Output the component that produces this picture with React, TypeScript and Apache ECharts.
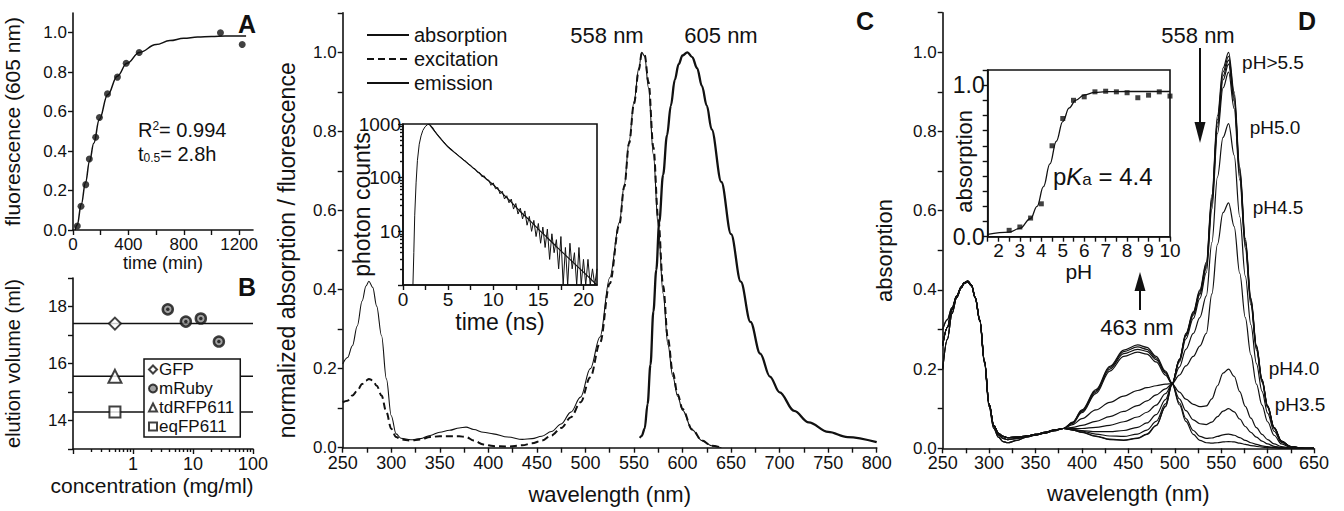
import React, { useEffect, useRef } from 'react';
import * as echarts from 'echarts';

const FONT = '"Liberation Sans", Arial, Helvetica, sans-serif';
const INK = '#111';

// ---------------- Panel A: maturation ----------------
const aTime = [31, 58, 92, 118, 164, 191, 249, 321, 384, 478, 1065, 1222];
const aFluor = [0.02, 0.12, 0.23, 0.36, 0.47, 0.57, 0.69, 0.775, 0.845, 0.9, 1.0, 0.94];
const aFitTime = [15, 30, 60, 90, 120, 150, 190, 250, 320, 390, 480, 600, 700, 800, 900, 1000, 1100, 1250];
const aFitFluor = [0, 0.025, 0.13, 0.24, 0.35, 0.44, 0.56, 0.685, 0.78, 0.845, 0.9, 0.94, 0.96, 0.972, 0.978, 0.981, 0.983, 0.984];
const aTicksX = [0, 200, 400, 600, 800, 1000, 1200];
const aLabelsX = [0, 400, 800, 1200];
const aTicksY = [0, 0.2, 0.4, 0.6, 0.8, 1.0];

// ---------------- Panel B: gel filtration ----------------
const bRefNames = ['GFP', 'tdRFP611', 'eqFP611'];
const bRefSymbols = ['diamond', 'triangle', 'rect'];
const bRefSizes = [12, 13, 11];
const bRefConc = [0.5, 0.5, 0.5];
const bRefElution = [17.4, 15.55, 14.3];
const bConcRange = [0.1, 100];
const bMRubyConc = [3.8, 7.6, 13.5, 27];
const bMRubyElution = [17.9, 17.47, 17.58, 16.77];
const bMinorTicks = [0.2, 0.3, 0.4, 0.5, 0.6, 0.7, 0.8, 0.9, 2, 3, 4, 5, 6, 7, 8, 9, 20, 30, 40, 50, 60, 70, 80, 90];

// ---------------- Panel C: spectra ----------------
const cWl = [250, 255, 260, 265, 270, 274, 277, 281, 285, 290, 295, 300, 305, 310, 320, 330, 340, 350, 360, 370, 377, 385, 395, 405, 420, 435, 445, 455, 465, 475, 485, 495, 505, 515, 525, 535, 540, 545, 550, 555, 558, 561, 565, 570, 575, 580, 585, 590, 595, 600, 610, 620, 630, 640];
const cAbs = [0.212, 0.228, 0.258, 0.308, 0.371, 0.409, 0.421, 0.405, 0.358, 0.283, 0.174, 0.081, 0.035, 0.024, 0.02, 0.023, 0.031, 0.039, 0.044, 0.05, 0.052, 0.046, 0.039, 0.035, 0.027, 0.021, 0.023, 0.029, 0.041, 0.06, 0.09, 0.128, 0.2, 0.28, 0.43, 0.57, 0.665, 0.775, 0.875, 0.96, 1.0, 0.99, 0.91, 0.74, 0.56, 0.39, 0.26, 0.18, 0.13, 0.095, 0.045, 0.018, 0.005, 0];
const cExc = [0.115, 0.119, 0.132, 0.144, 0.161, 0.17, 0.174, 0.17, 0.157, 0.132, 0.09, 0.048, 0.027, 0.021, 0.018, 0.021, 0.027, 0.029, 0.029, 0.029, 0.027, 0.018, 0.008, 0.004, 0.003, 0.006, 0.011, 0.018, 0.031, 0.05, 0.077, 0.115, 0.178, 0.265, 0.415, 0.565, 0.66, 0.77, 0.87, 0.955, 0.998, 0.993, 0.925, 0.76, 0.58, 0.41, 0.275, 0.19, 0.135, 0.098, 0.046, 0.018, 0.005, 0];
const cEmWl = [556, 558, 561, 564, 567, 570, 573, 576, 580, 584, 588, 592, 596, 600, 605, 610, 615, 620, 625, 630, 640, 650, 660, 670, 680, 690, 700, 715, 730, 750, 770, 800];
const cEm = [0.025, 0.03, 0.048, 0.11, 0.21, 0.345, 0.45, 0.57, 0.69, 0.79, 0.865, 0.93, 0.97, 0.992, 1.0, 0.988, 0.96, 0.915, 0.865, 0.805, 0.672, 0.54, 0.42, 0.318, 0.238, 0.18, 0.14, 0.093, 0.064, 0.04, 0.027, 0.014];

// inset: fluorescence decay
const cDecayT = [1.1, 1.2, 1.3, 1.45, 1.6, 1.8, 2.0, 2.2, 2.45, 2.7, 2.9,
  3, 3.25, 3.5, 3.75, 4, 4.25, 4.5, 4.75, 5, 5.25, 5.5, 5.75, 6, 6.25, 6.5, 6.75, 7, 7.25, 7.5, 7.75,
  8, 8.25, 8.5, 8.75, 9, 9.25, 9.5, 9.75, 10, 10.25, 10.5, 10.75, 11, 11.25, 11.5, 11.75, 12, 12.25, 12.5, 12.75,
  13, 13.25, 13.5, 13.75, 14, 14.25, 14.5, 14.75, 15, 15.25, 15.5, 15.75, 16, 16.25, 16.5, 16.75, 17, 17.25, 17.5, 17.75,
  18, 18.25, 18.5, 18.75, 19, 19.25, 19.5, 19.75, 20, 20.25, 20.5, 20.75, 21, 21.25, 21.5];
const cDecayCounts = [1, 4, 20, 80, 210, 420, 600, 760, 890, 970, 990,
  950, 880, 740, 650, 585, 520, 470, 415, 372, 350, 322, 290, 272, 248, 232, 212, 200, 178, 170, 150,
  146, 126, 124, 104, 108, 92, 90, 72, 80, 62, 66, 50, 56, 40, 46, 34, 40, 26, 33, 21,
  27, 17, 24, 13, 19, 10, 16, 8, 14, 6, 12, 5, 11, 3, 9, 4, 7, 2, 8, 1,
  5, 1, 6, 2, 4, 1, 5, 1, 3, 1, 3, 1, 2, 1, 2];
const cFitT = [2.9, 4, 5, 6, 7, 8, 9, 10, 11, 12, 13, 14, 15, 16, 17, 18, 19, 20, 21, 21.5];
const cFitCounts = [990, 575, 372, 269, 195, 141, 102, 74, 51, 35, 23.4, 16.2, 11, 7.6, 5.2, 3.6, 2.5, 1.74, 1.2, 1.0];
const cInsetTicksX = [0, 2.5, 5, 7.5, 10, 12.5, 15, 17.5, 20];
const cInsetLabelsX = [0, 5, 10, 15, 20];
const cInsetMinorY = [2, 3, 4, 5, 6, 7, 8, 9, 20, 30, 40, 50, 60, 70, 80, 90, 200, 300, 400, 500, 600, 700, 800, 900];

// ---------------- Panel D: pH titration ----------------
const dPH = ['9.0', '8.0', '7.0', '6.0', '5.5', '5.0', '4.5', '4.0', '3.5', '3.0', '2.5'];
const dWlUV = [250, 255, 260, 265, 270, 273, 277, 281, 285, 290, 295, 300, 305, 310, 315, 320, 330, 340, 350, 360, 370, 380];
const dUvA = [0.30, 0.325, 0.355, 0.385, 0.408, 0.418, 0.421, 0.41, 0.38, 0.32, 0.215, 0.105, 0.05, 0.028, 0.017, 0.014, 0.02, 0.028, 0.033, 0.038, 0.044, 0.05];
const dUvB = [0.20, 0.275, 0.34, 0.38, 0.405, 0.416, 0.42, 0.41, 0.38, 0.322, 0.218, 0.11, 0.055, 0.034, 0.025, 0.022, 0.025, 0.03, 0.034, 0.039, 0.045, 0.05];
const dUvC = [0.26, 0.305, 0.35, 0.383, 0.407, 0.418, 0.422, 0.412, 0.382, 0.324, 0.22, 0.112, 0.058, 0.038, 0.03, 0.027, 0.028, 0.031, 0.035, 0.04, 0.046, 0.05];
const dUvByPH = [dUvA, dUvC, dUvA, dUvC, dUvC, dUvB, dUvC, dUvB, dUvC, dUvB, dUvC];
const dWlLeft = [390, 400, 415, 430, 445, 460, 470, 480, 490, 497];
const dLeftPH90 = [0.046, 0.04, 0.03, 0.022, 0.02, 0.025, 0.035, 0.057, 0.105, 0.16];
const dLeftPH80 = [0.046, 0.041, 0.031, 0.023, 0.021, 0.026, 0.036, 0.058, 0.106, 0.161];
const dLeftPH70 = [0.047, 0.043, 0.036, 0.031, 0.03, 0.036, 0.046, 0.068, 0.112, 0.162];
const dLeftPH60 = [0.048, 0.045, 0.042, 0.042, 0.045, 0.053, 0.064, 0.085, 0.123, 0.162];
const dLeftPH55 = [0.05, 0.05, 0.053, 0.058, 0.067, 0.079, 0.091, 0.109, 0.138, 0.162];
const dLeftPH50 = [0.053, 0.058, 0.068, 0.08, 0.093, 0.108, 0.12, 0.135, 0.15, 0.163];
const dLeftPH45 = [0.06, 0.075, 0.097, 0.116, 0.132, 0.146, 0.153, 0.158, 0.162, 0.163];
const dLeftPH40 = [0.063, 0.09, 0.138, 0.195, 0.232, 0.243, 0.238, 0.218, 0.185, 0.163];
const dLeftPH35 = [0.064, 0.093, 0.142, 0.2, 0.239, 0.25, 0.245, 0.224, 0.19, 0.164];
const dLeftPH30 = [0.065, 0.095, 0.145, 0.204, 0.244, 0.256, 0.25, 0.228, 0.192, 0.164];
const dLeftPH25 = [0.066, 0.097, 0.148, 0.207, 0.248, 0.261, 0.255, 0.232, 0.195, 0.165];
const dLeftByPH = [dLeftPH90, dLeftPH80, dLeftPH70, dLeftPH60, dLeftPH55, dLeftPH50, dLeftPH45, dLeftPH40, dLeftPH35, dLeftPH30, dLeftPH25];
const dWlRight = [505, 512, 520, 527, 534, 540, 546, 552, 558, 564, 570, 576, 582, 588, 594, 600, 607, 615, 625, 640, 650];
const dRightPH90 = [0.225, 0.29, 0.345, 0.40, 0.47, 0.64, 0.84, 0.96, 1.0, 0.90, 0.71, 0.53, 0.38, 0.26, 0.175, 0.108, 0.053, 0.018, 0.004, 0, 0];
const dRightPH80 = [0.224, 0.288, 0.342, 0.396, 0.465, 0.632, 0.83, 0.95, 0.99, 0.892, 0.703, 0.525, 0.376, 0.258, 0.173, 0.107, 0.052, 0.018, 0.004, 0, 0];
const dRightPH70 = [0.223, 0.286, 0.339, 0.392, 0.46, 0.626, 0.822, 0.94, 0.98, 0.884, 0.697, 0.52, 0.373, 0.256, 0.172, 0.106, 0.052, 0.018, 0.004, 0, 0];
const dRightPH60 = [0.222, 0.284, 0.336, 0.388, 0.455, 0.618, 0.812, 0.93, 0.97, 0.876, 0.69, 0.515, 0.369, 0.253, 0.17, 0.105, 0.051, 0.017, 0.004, 0, 0];
const dRightPH55 = [0.218, 0.276, 0.328, 0.378, 0.444, 0.604, 0.795, 0.91, 0.95, 0.858, 0.678, 0.505, 0.362, 0.248, 0.167, 0.103, 0.05, 0.017, 0.004, 0, 0];
const dRightPH50 = [0.205, 0.25, 0.29, 0.33, 0.385, 0.52, 0.685, 0.785, 0.82, 0.74, 0.585, 0.435, 0.312, 0.214, 0.144, 0.089, 0.043, 0.015, 0.003, 0, 0];
const dRightPH45 = [0.185, 0.208, 0.232, 0.258, 0.29, 0.39, 0.515, 0.595, 0.62, 0.56, 0.442, 0.33, 0.236, 0.162, 0.109, 0.067, 0.033, 0.011, 0.002, 0, 0];
const dRightPH40 = [0.142, 0.124, 0.111, 0.105, 0.107, 0.125, 0.158, 0.19, 0.2, 0.182, 0.143, 0.106, 0.076, 0.052, 0.035, 0.022, 0.011, 0.004, 0.001, 0, 0];
const dRightPH35 = [0.125, 0.095, 0.072, 0.062, 0.06, 0.066, 0.08, 0.094, 0.1, 0.092, 0.074, 0.055, 0.04, 0.028, 0.018, 0.011, 0.005, 0.002, 0, 0, 0];
const dRightPH30 = [0.115, 0.075, 0.045, 0.03, 0.025, 0.026, 0.03, 0.034, 0.036, 0.033, 0.027, 0.02, 0.014, 0.01, 0.006, 0.004, 0.002, 0.001, 0, 0, 0];
const dRightPH25 = [0.11, 0.068, 0.035, 0.02, 0.014, 0.013, 0.014, 0.016, 0.017, 0.016, 0.013, 0.01, 0.007, 0.005, 0.003, 0.002, 0.001, 0, 0, 0, 0];
const dRightByPH = [dRightPH90, dRightPH80, dRightPH70, dRightPH60, dRightPH55, dRightPH50, dRightPH45, dRightPH40, dRightPH35, dRightPH30, dRightPH25];

// inset: titration at 558 nm
const dInsetPH = [2.5, 3, 3.5, 4, 4.5, 5, 5.5, 6, 6.5, 7, 7.5, 8, 8.5, 9, 9.5, 10];
const dInsetAbs = [0.042, 0.064, 0.123, 0.217, 0.6, 0.78, 0.9, 0.923, 0.956, 0.96, 0.956, 0.95, 0.917, 0.934, 0.956, 0.928];
const dFitPH = [1.5, 2.5, 3.0, 3.5, 3.8, 4.1, 4.4, 4.7, 5.0, 5.3, 5.6, 6.0, 6.5, 7, 8, 9, 10];
const dFitAbs = [0.015, 0.03, 0.055, 0.12, 0.2, 0.33, 0.48, 0.63, 0.76, 0.85, 0.9, 0.935, 0.952, 0.957, 0.958, 0.958, 0.958];

const pairs = (xs: number[], ys: number[]) => xs.map((x, i) => [x, ys[i]]);

function mkAxis(o: any) {
  return {
    type: o.type ?? 'value',
    gridIndex: o.grid,
    position: o.position,
    min: o.min,
    max: o.max,
    interval: o.interval,
    logBase: o.logBase,
    name: o.name,
    nameLocation: 'middle',
    nameGap: o.nameGap,
    nameMoveOverlap: false,
    nameTextStyle: { color: INK, fontFamily: FONT, fontSize: o.nameSize ?? 21, padding: o.namePad ?? 0 },
    axisLine: { show: o.line !== false, onZero: false, lineStyle: { color: INK, width: 1.6 } },
    axisTick: { show: true, length: o.tickLen ?? 5, customValues: o.tickValues, lineStyle: { color: INK, width: 1.4 } },
    axisLabel: {
      show: o.labels !== false, color: INK, fontFamily: FONT, fontSize: o.fs ?? 17, margin: o.margin ?? 6,
      formatter: o.fmt, customValues: o.labelValues, showMaxLabel: o.showMax, showMinLabel: o.showMin,
    },
    splitLine: { show: false },
  };
}

const evenTenths = (v: number) => {
  const r = Math.round(v * 10);
  return r % 2 === 0 && r <= 10 ? (r / 10).toFixed(1) : '';
};

function txt(text: string, x: number, y: number, fs: number, extra: any = {}) {
  return {
    type: 'text', x, y, z: 50,
    style: { text, fontSize: fs, fontFamily: FONT, fill: INK, align: 'center', verticalAlign: 'middle', ...extra },
  };
}

function buildOption() {
  const lineBase = { type: 'line', symbol: 'none', showSymbol: false, animation: false };

  const dSeries = dPH.map((ph, i) => ({
    ...lineBase,
    name: 'pH ' + ph,
    xAxisIndex: 4,
    yAxisIndex: 4,
    smooth: 0.35,
    smoothMonotone: 'x',
    lineStyle: { color: INK, width: 1.2 },
    data: pairs(dWlUV.concat(dWlLeft, dWlRight), dUvByPH[i].concat(dLeftByPH[i], dRightByPH[i])),
  }));

  const bRefLines = bRefNames.map((n, i) => ({
    ...lineBase,
    name: n + ' reference',
    xAxisIndex: 1,
    yAxisIndex: 1,
    lineStyle: { color: INK, width: 1.5 },
    data: [[bConcRange[0], bRefElution[i]], [bConcRange[1], bRefElution[i]]],
  }));
  const bRefMarks = bRefNames.map((n, i) => ({
    type: 'scatter',
    name: n,
    xAxisIndex: 1,
    yAxisIndex: 1,
    symbol: bRefSymbols[i],
    symbolSize: bRefSizes[i],
    z: 5,
    itemStyle: { color: '#fff', borderColor: INK, borderWidth: 2 },
    data: [[bRefConc[i], bRefElution[i]]],
  }));

  return {
    animation: false,
    textStyle: { fontFamily: FONT, color: INK },
    grid: [
      { left: 73, top: 13, width: 180, height: 217, outerBoundsMode: 'none' },
      { left: 73, top: 278, width: 180, height: 171, outerBoundsMode: 'none' },
      { left: 342.7, top: 12.8, width: 534, height: 434.9, outerBoundsMode: 'none' },
      { left: 403, top: 124, width: 194, height: 161, show: true, borderColor: INK, borderWidth: 1.6, backgroundColor: '#fff', outerBoundsMode: 'none' },
      { left: 942.7, top: 12.7, width: 371.3, height: 435.6, outerBoundsMode: 'none' },
      { left: 987.7, top: 70, width: 182.3, height: 166.7, show: true, borderColor: INK, borderWidth: 1.6, backgroundColor: '#fff', outerBoundsMode: 'none' },
    ],
    xAxis: [
      mkAxis({ grid: 0, min: 0, max: 1300, interval: 200, tickValues: aTicksX, labelValues: aLabelsX,
        fmt: (v: number) => (v % 400 === 0 && v <= 1200 ? String(v) : ''), name: 'time (min)', nameGap: 24, nameSize: 18 }),
      mkAxis({ grid: 1, type: 'log', logBase: 10, min: bConcRange[0], max: bConcRange[1], fs: 18,
        fmt: (v: number) => (v < 0.5 ? '' : String(Math.round(v))), name: 'concentration (mg/ml)', nameGap: 26, nameSize: 21, namePad: [0, 22, 0, 0] }),
      mkAxis({ grid: 2, min: 250, max: 800, interval: 25, fs: 18, fmt: (v: number) => (v % 50 === 0 ? String(v) : ''),
        name: 'wavelength (nm)', nameGap: 36, nameSize: 22 }),
      mkAxis({ grid: 3, min: 0, max: 21.5, interval: 2.5, tickValues: cInsetTicksX, labelValues: cInsetLabelsX, fs: 19, margin: 5,
        fmt: (v: number) => (v % 5 === 0 ? String(v) : ''), name: 'time (ns)', nameGap: 25, nameSize: 23 }),
      mkAxis({ grid: 4, min: 250, max: 650, interval: 25, fs: 18, fmt: (v: number) => (v % 50 === 0 ? String(v) : ''),
        name: 'wavelength (nm)', nameGap: 34, nameSize: 22 }),
      mkAxis({ grid: 5, min: 1.5, max: 10, interval: 0.5, fs: 19, margin: 4,
        fmt: (v: number) => (Math.abs(v - Math.round(v)) < 1e-6 ? String(Math.round(v)) : ''), name: 'pH', nameGap: 24, nameSize: 21 }),
      mkAxis({ grid: 1, type: 'log', logBase: 10, min: bConcRange[0], max: bConcRange[1], position: 'bottom', line: false, labels: false,
        tickValues: bMinorTicks, tickLen: 3 }),
    ],
    yAxis: [
      mkAxis({ grid: 0, min: 0, max: 1.1, interval: 0.2, tickValues: aTicksY, labelValues: aTicksY,
        fmt: (v: number) => (v <= 1.0001 ? v.toFixed(1) : ''), name: 'fluorescence (605 nm)', nameGap: 50, nameSize: 21 }),
      mkAxis({ grid: 1, min: 13, max: 19, interval: 1,
        fmt: (v: number) => (v === 14 || v === 16 || v === 18 ? String(v) : ''), name: 'elution volume (ml)', nameGap: 50, nameSize: 20 }),
      mkAxis({ grid: 2, min: 0, max: 1.1, interval: 0.1, fmt: evenTenths, name: 'normalized absorption / fluorescence',
        nameGap: 44, nameSize: 23, namePad: [0, 40, 0, 0] }),
      mkAxis({ grid: 3, type: 'log', logBase: 10, min: 1, max: 1000, fs: 19, margin: 2,
        fmt: (v: number) => (v < 2 ? '' : String(Math.round(v))), name: 'photon counts', nameGap: 30, nameSize: 23 }),
      mkAxis({ grid: 4, min: 0, max: 1.1, interval: 0.1, fmt: evenTenths, name: 'absorption',
        nameGap: 47, nameSize: 22, namePad: [0, 40, 0, 0] }),
      mkAxis({ grid: 5, min: 0, max: 1.1, interval: 0.1, fs: 23, margin: 3,
        fmt: (v: number) => { const r = Math.round(v * 10); return r === 0 || r === 10 ? (r / 10).toFixed(1) : ''; },
        name: 'absorption', nameGap: 12, nameSize: 22, namePad: [0, 16, 0, 0] }),
      mkAxis({ grid: 3, type: 'log', logBase: 10, min: 1, max: 1000, position: 'left', line: false, labels: false,
        tickValues: cInsetMinorY, tickLen: 3 }),
    ],
    legend: [
      {
        data: ['absorption', 'excitation', 'emission'], orient: 'vertical', left: 361, top: 20,
        itemWidth: 42, itemHeight: 12, itemGap: 4, selectedMode: false,
        itemStyle: { opacity: 0, color: 'transparent', borderColor: 'transparent', borderWidth: 0 },
        textStyle: { fontSize: 20, fontFamily: FONT, color: INK },
      },
      {
        data: ['GFP', 'mRuby', 'tdRFP611', 'eqFP611'], orient: 'vertical', left: 144, top: 359,
        itemWidth: 8, itemHeight: 8, itemGap: 2, selectedMode: false, z: 10,
        backgroundColor: '#fff', borderColor: INK, borderWidth: 1.5, padding: [2, 6, 2, 4],
        textStyle: { fontSize: 17, fontFamily: FONT, color: INK, padding: [0, 0, 0, -3] },
      },
    ],
    series: [
      // A
      { ...lineBase, name: 'fit A', xAxisIndex: 0, yAxisIndex: 0, smooth: 0.4, smoothMonotone: 'x',
        lineStyle: { color: INK, width: 1.5 }, data: pairs(aFitTime, aFitFluor) },
      { type: 'scatter', name: 'maturation', xAxisIndex: 0, yAxisIndex: 0, symbolSize: 7, itemStyle: { color: INK },
        data: pairs(aTime, aFluor) },
      // B
      ...bRefLines,
      ...bRefMarks,
      { type: 'scatter', name: 'mRuby', xAxisIndex: 1, yAxisIndex: 1, symbol: 'circle', symbolSize: 10, z: 5,
        itemStyle: { color: '#8a8a8a', borderColor: INK, borderWidth: 2.5 }, data: pairs(bMRubyConc, bMRubyElution) },
      { type: 'scatter', name: 'mRuby core', xAxisIndex: 1, yAxisIndex: 1, symbol: 'circle', symbolSize: 3.5, z: 6,
        itemStyle: { color: INK }, data: pairs(bMRubyConc, bMRubyElution) },
      // C
      { ...lineBase, name: 'absorption', xAxisIndex: 2, yAxisIndex: 2, smooth: 0.35, smoothMonotone: 'x',
        lineStyle: { color: INK, width: 1.1 }, itemStyle: { color: INK }, data: pairs(cWl, cAbs) },
      { ...lineBase, name: 'excitation', xAxisIndex: 2, yAxisIndex: 2, smooth: 0.35, smoothMonotone: 'x',
        lineStyle: { color: INK, width: 2, type: [7, 4] }, itemStyle: { color: INK }, data: pairs(cWl, cExc) },
      { ...lineBase, name: 'emission', xAxisIndex: 2, yAxisIndex: 2, smooth: 0.35, smoothMonotone: 'x',
        lineStyle: { color: INK, width: 2.3 }, itemStyle: { color: INK }, data: pairs(cEmWl, cEm) },
      { ...lineBase, name: 'decay', xAxisIndex: 3, yAxisIndex: 3, lineStyle: { color: INK, width: 1 },
        data: pairs(cDecayT, cDecayCounts) },
      { ...lineBase, name: 'decay fit', xAxisIndex: 3, yAxisIndex: 3, smooth: 0.3, lineStyle: { color: INK, width: 1.2 },
        data: pairs(cFitT, cFitCounts) },
      // D
      ...dSeries,
      { ...lineBase, name: 'titration fit', xAxisIndex: 5, yAxisIndex: 5, smooth: 0.4, smoothMonotone: 'x',
        lineStyle: { color: INK, width: 1.3 }, data: pairs(dFitPH, dFitAbs) },
      { type: 'scatter', name: 'titration', xAxisIndex: 5, yAxisIndex: 5, symbol: 'rect', symbolSize: 5,
        itemStyle: { color: INK }, data: pairs(dInsetPH, dInsetAbs) },
    ],
    graphic: [
      txt('A', 247, 24, 25, { fontWeight: 'bold' }),
      txt('B', 247, 287, 25, { fontWeight: 'bold' }),
      txt('C', 865, 21, 25, { fontWeight: 'bold' }),
      txt('D', 1307, 21, 25, { fontWeight: 'bold' }),
      {
        type: 'text', x: 138, y: 130, z: 50,
        style: {
          text: '{n|R}{s|2}{n|= 0.994}', align: 'left', verticalAlign: 'middle',
          rich: { n: { fontSize: 20, fontFamily: FONT, fill: INK }, s: { fontSize: 12, fontFamily: FONT, fill: INK, verticalAlign: 'top' } },
        },
      },
      {
        type: 'text', x: 138, y: 154, z: 50,
        style: {
          text: '{n|t}{s|0.5}{n|= 2.8h}', align: 'left', verticalAlign: 'middle',
          rich: { n: { fontSize: 20, fontFamily: FONT, fill: INK }, s: { fontSize: 12, fontFamily: FONT, fill: INK, verticalAlign: 'bottom' } },
        },
      },
      txt('558 nm', 607, 35, 22),
      txt('605 nm', 721, 35, 22),
      txt('558 nm', 1198, 35, 22),
      txt('463 nm', 1137, 327, 22),
      txt('pH>5.5', 1273, 62, 19),
      txt('pH5.0', 1275, 127, 19),
      txt('pH4.5', 1278, 207, 19),
      txt('pH4.0', 1294, 368, 19),
      txt('pH3.5', 1300, 404, 19),
      {
        type: 'text', x: 1053, y: 176, z: 50,
        style: {
          text: '{n|p}{k|K}{s|a}{n| = 4.4}', align: 'left', verticalAlign: 'middle',
          rich: {
            n: { fontSize: 24, fontFamily: FONT, fill: INK },
            k: { fontSize: 24, fontFamily: FONT, fill: INK, fontStyle: 'italic' },
            s: { fontSize: 17, fontFamily: FONT, fill: INK, verticalAlign: 'bottom' },
          },
        },
      },
      { type: 'line', z: 50, shape: { x1: 1200, y1: 48, x2: 1200, y2: 126 }, style: { stroke: INK, lineWidth: 2 } },
      { type: 'polygon', z: 50, shape: { points: [[1194.5, 122], [1205.5, 122], [1200, 143]] }, style: { fill: INK } },
      { type: 'line', z: 50, shape: { x1: 1140, y1: 310, x2: 1140, y2: 288 }, style: { stroke: INK, lineWidth: 2 } },
      { type: 'polygon', z: 50, shape: { points: [[1134.5, 291], [1145.5, 291], [1140, 272]] }, style: { fill: INK } },
    ],
  };
}

export default function App() {
  const ref = useRef<HTMLDivElement>(null);
  useEffect(() => {
    document.body.style.margin = '0';
    if (!ref.current) return;
    const chart = echarts.init(ref.current, undefined, { renderer: 'svg' });
    chart.setOption(buildOption() as any);
    return () => chart.dispose();
  }, []);
  return <div ref={ref} style={{ position: 'fixed', left: 0, top: 0, width: 1344, height: 511, background: '#fff' }} />;
}
